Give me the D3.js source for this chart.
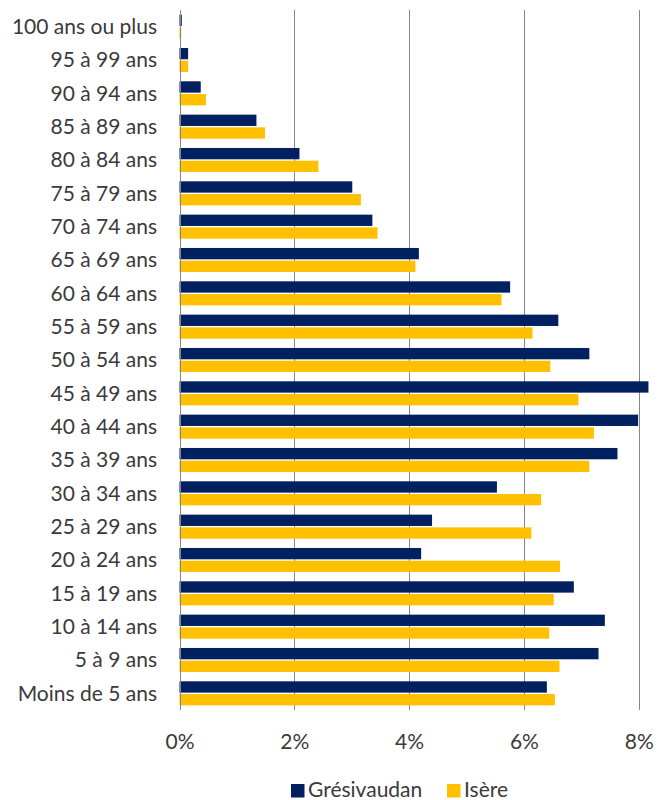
<!DOCTYPE html>
<html>
<head>
<meta charset="utf-8">
<script src="https://cdn.jsdelivr.net/npm/d3@7"></script>
<style>
  html, body { margin: 0; padding: 0; background: #fff; }
  svg { display: block; font-family: Lato, "Open Sans", sans-serif; }
</style>
</head>
<body>
<svg id="chart" width="661" height="800"></svg>
<script>
const categories = [
  "100 ans ou plus", "95 à 99 ans", "90 à 94 ans", "85 à 89 ans", "80 à 84 ans",
  "75 à 79 ans", "70 à 74 ans", "65 à 69 ans", "60 à 64 ans", "55 à 59 ans",
  "50 à 54 ans", "45 à 49 ans", "40 à 44 ans", "35 à 39 ans", "30 à 34 ans",
  "25 à 29 ans", "20 à 24 ans", "15 à 19 ans", "10 à 14 ans", "5 à 9 ans",
  "Moins de 5 ans"
];
const seriesNames = ["Grésivaudan", "Isère"];
const gresivaudan = [0.04, 0.15, 0.37, 1.34, 2.09, 3.01, 3.36, 4.17, 5.76, 6.60,
  7.14, 8.17, 7.99, 7.63, 5.53, 4.40, 4.21, 6.87, 7.41, 7.30, 6.40];
const isere = [0.03, 0.15, 0.46, 1.49, 2.42, 3.16, 3.45, 4.11, 5.61, 6.15,
  6.46, 6.95, 7.22, 7.14, 6.30, 6.13, 6.63, 6.52, 6.44, 6.62, 6.54];
const tickValues = [0, 2, 4, 6, 8];
const colors = ["#002060", "#FFC000"];

const svg = d3.select("#chart");
const margin = { left: 179.5, right: 22.3, top: 10, bottom: 90 };
const W = 661, H = 800;
const FS = 21;

const x = d3.scaleLinear().domain([0, 8]).range([margin.left, W - margin.right]);
const y0 = d3.scaleBand().domain(categories).range([margin.top, H - margin.bottom]).padding(0);
const y1 = d3.scaleBand().domain(seriesNames).range([0, y0.bandwidth()]).paddingInner(0).paddingOuter(0.31);

// gridlines
svg.append("g")
  .selectAll("line")
  .data(tickValues.filter(d => d > 0))
  .join("line")
  .attr("x1", d => Math.round(x(d)) + 0.5)
  .attr("x2", d => Math.round(x(d)) + 0.5)
  .attr("y1", margin.top)
  .attr("y2", H - margin.bottom)
  .attr("stroke", "#868686")
  .attr("stroke-width", 1);

// bars
const rows = categories.map((c, i) => ({ cat: c, vals: [gresivaudan[i], isere[i]] }));
const g = svg.append("g");
rows.forEach(r => {
  r.vals.forEach((v, j) => {
    g.append("rect")
      .attr("x", x(0))
      .attr("y", y0(r.cat) + y1(seriesNames[j]) + 0.7)
      .attr("width", Math.max(x(v) - x(0), 1.5))
      .attr("height", y1.bandwidth() - 1.4)
      .attr("fill", colors[j]);
  });
});

// vertical axis line
svg.append("line")
  .attr("x1", Math.round(x(0)) + 0.5)
  .attr("x2", Math.round(x(0)) + 0.5)
  .attr("y1", margin.top)
  .attr("y2", H - margin.bottom)
  .attr("stroke", "#868686");

// category labels
svg.append("g")
  .selectAll("text")
  .data(categories)
  .join("text")
  .attr("x", 157)
  .attr("y", d => y0(d) + y0.bandwidth() / 2)
  .attr("dy", "0.35em")
  .attr("text-anchor", "end")
  .attr("font-size", FS)
  .attr("fill", "#3a3a3a")
  .text(d => d);

// x tick labels
const xAxis = d3.axisBottom(x).tickValues(tickValues).tickSize(0).tickPadding(0).tickFormat(d => d + "%");
const ax = svg.append("g").attr("transform", `translate(0, ${H - margin.bottom})`).call(xAxis);
ax.select(".domain").remove();
ax.selectAll("text")
  .attr("y", 31.5)
  .attr("dy", "0.35em")
  .attr("font-size", FS)
  .attr("font-family", "Lato, 'Open Sans', sans-serif")
  .attr("fill", "#3a3a3a");

// legend
const legend = svg.append("g");
const legendItems = [
  { name: seriesNames[0], color: colors[0], sx: 291, tx: 308 },
  { name: seriesNames[1], color: colors[1], sx: 447, tx: 464 }
];
legendItems.forEach(it => {
  legend.append("rect").attr("x", it.sx).attr("y", 784).attr("width", 13.5).attr("height", 13.5).attr("fill", it.color);
  legend.append("text").attr("x", it.tx).attr("y", 790).attr("dy", "0.35em")
    .attr("font-size", FS).attr("fill", "#3a3a3a").text(it.name);
});
</script>
</body>
</html>
